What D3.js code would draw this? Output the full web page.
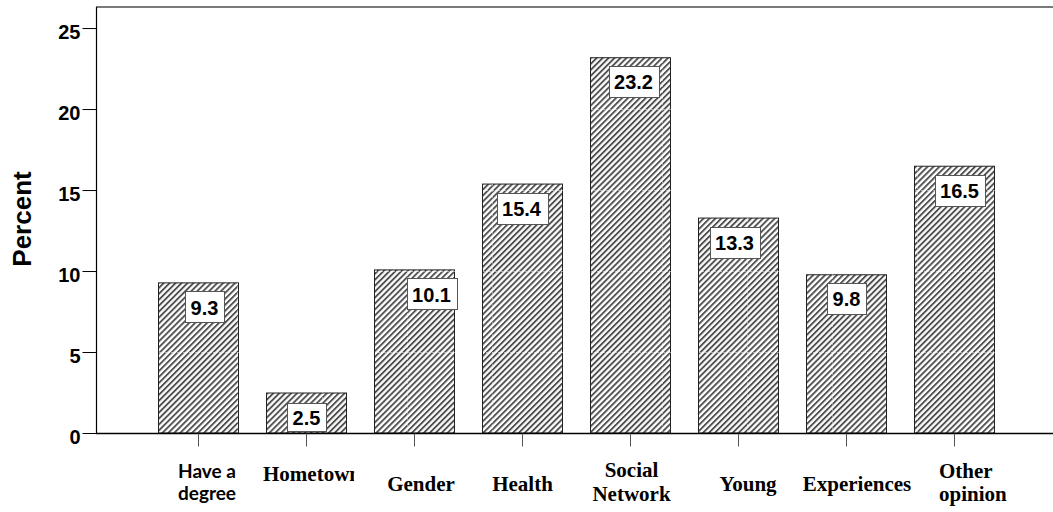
<!DOCTYPE html>
<html>
<head>
<meta charset="utf-8">
<script src="https://cdn.jsdelivr.net/npm/d3@7"></script>
<style>
  html, body { margin: 0; padding: 0; background: #fff; }
  svg { display: block; }
</style>
</head>
<body>
<svg id="chart" width="1053" height="512"></svg>
<script>
// Reasons given, share of respondents (%)
const categories = ["Have a\ndegree", "Hometown", "Gender", "Health", "Social\nNetwork", "Young", "Experiences", "Other\nopinion"];
const percents = [9.3, 2.5, 10.1, 15.4, 23.2, 13.3, 9.8, 16.5];
const yTicks = [0, 5, 10, 15, 20, 25];
const yTitle = "Percent";

// Layout of the category labels and value boxes (offsets from the band centre)
const labelLayout = [
  { font: "sans", anchor: "middle", dx: 8.5, y: [478, 500] },
  { font: "serif", anchor: "middle", dx: 5.5, y: [481], clipLast: true },
  { font: "serif", anchor: "middle", dx: 6.5, y: [491] },
  { font: "serif", anchor: "middle", dx: 0, y: [491] },
  { font: "serif", anchor: "middle", dx: 1, y: [477, 501] },
  { font: "serif", anchor: "middle", dx: 9.5, y: [491] },
  { font: "serif", anchor: "middle", dx: 10.5, y: [491] },
  { font: "serif", anchor: "start", dx: -15.5, y: [478, 501] }
];
const valueNudge = [6, 0, 17, -1, 3, -4, 0, 5];

const svg = d3.select("#chart");
const plotLeft = 96, plotRight = 1053, plotTop = 7, plotBottom = 433;

const x = d3.scaleBand()
  .domain(categories)
  .range([144.5, 1008.5])
  .paddingInner(0.25)
  .paddingOuter(0.125);

const y = d3.scaleLinear().domain([0, 26.3]).range([plotBottom, plotTop]);

// Diagonal hatch fill
const defs = svg.append("defs");
const pat = defs.append("pattern")
  .attr("id", "hatch")
  .attr("patternUnits", "userSpaceOnUse")
  .attr("width", 4.2).attr("height", 4.2)
  .attr("patternTransform", "rotate(45)");
pat.append("rect").attr("width", 4.2).attr("height", 4.2).attr("fill", "#fff");
pat.append("rect").attr("x", 0).attr("width", 1.9).attr("height", 4.2).attr("fill", "#505050");

const clip = defs.append("clipPath").attr("id", "barsClip");
clip.selectAll("rect")
  .data(percents)
  .join("rect")
  .attr("x", (d, i) => x(categories[i]))
  .attr("y", d => y(d))
  .attr("width", x.bandwidth())
  .attr("height", d => y(0) - y(d));

// Frame: top border
svg.append("line")
  .attr("x1", plotLeft).attr("x2", plotRight)
  .attr("y1", plotTop).attr("y2", plotTop)
  .attr("stroke", "#7a7a7a").attr("stroke-width", 2);

// Bars
svg.append("g").selectAll("rect")
  .data(percents)
  .join("rect")
  .attr("x", (d, i) => x(categories[i]) + 0.5)
  .attr("y", d => y(d) + 0.5)
  .attr("width", x.bandwidth() - 1)
  .attr("height", d => y(0) - y(d) - 0.5)
  .attr("fill", "url(#hatch)")
  .attr("stroke", "#222")
  .attr("stroke-width", 1);

// Faint grid showing through the hatching
const grid = svg.append("g").attr("clip-path", "url(#barsClip)");
grid.selectAll("line.h")
  .data(yTicks.slice(1))
  .join("line")
  .attr("class", "h")
  .attr("x1", plotLeft).attr("x2", plotRight)
  .attr("y1", d => Math.round(y(d)) + 0.5).attr("y2", d => Math.round(y(d)) + 0.5)
  .attr("stroke", "#fff").attr("stroke-opacity", 0.5)
  .attr("stroke-dasharray", "2,1");
const vGrid = d3.range(152, plotRight, 85);
grid.selectAll("line.v")
  .data(vGrid)
  .join("line")
  .attr("class", "v")
  .attr("x1", d => d + 0.5).attr("x2", d => d + 0.5)
  .attr("y1", plotTop).attr("y2", plotBottom)
  .attr("stroke", "#fff").attr("stroke-opacity", 0.4)
  .attr("stroke-dasharray", "2,1");

// Y axis
const yAxis = svg.append("g").attr("transform", `translate(${plotLeft + 0.5},0)`)
  .call(d3.axisLeft(y).tickValues(yTicks).tickSize(14).tickPadding(2).tickFormat(d3.format("d")));
yAxis.select(".domain").attr("d", `M0,${plotTop}V${plotBottom}`).attr("stroke", "#000").attr("stroke-width", 1.2);
yAxis.selectAll(".tick line").attr("stroke", "#000").attr("stroke-width", 1);
yAxis.selectAll(".tick text")
  .attr("fill", "#000")
  .attr("dy", "0.68em")
  .attr("y", -3)
  .style("font-family", "'Liberation Sans', Arial, sans-serif")
  .style("font-weight", "bold")
  .style("font-size", "20px");

// X axis
const xAxis = svg.append("g").attr("transform", `translate(0,${plotBottom + 0.5})`)
  .call(d3.axisBottom(x).tickSize(13).tickFormat(""));
xAxis.select(".domain").attr("d", `M${plotLeft},0H${plotRight}`).attr("stroke", "#000").attr("stroke-width", 1.4);
xAxis.selectAll(".tick line").attr("stroke", "#555").attr("stroke-width", 1);

// Category labels
const labels = svg.append("g");
categories.forEach((c, i) => {
  const lay = labelLayout[i];
  const cx = x(c) + x.bandwidth() / 2 + lay.dx;
  c.split("\n").forEach((line, j) => {
    const t = labels.append("text")
      .attr("x", cx)
      .attr("y", lay.y[j])
      .attr("text-anchor", lay.anchor)
      .attr("fill", "#000")
      .style("font-weight", "bold")
      .style("font-family", lay.font === "sans" ? "Lato, 'Open Sans', sans-serif" : "'Liberation Serif', 'Times New Roman', serif")
      .style("font-size", lay.font === "sans" ? "19px" : "21px")
      .text(line);
    if (lay.clipLast) {
      const n = line.length - 1;
      const ext = t.node().getExtentOfChar(n);
      const id = "lblClip" + i;
      defs.append("clipPath").attr("id", id)
        .append("rect")
        .attr("x", 0).attr("y", 0)
        .attr("width", ext.x + ext.width * 0.42).attr("height", 512);
      t.attr("clip-path", `url(#${id})`);
    }
  });
});

// Value boxes
const valG = svg.append("g");
percents.forEach((v, i) => {
  const cx = x(categories[i]) + x.bandwidth() / 2 + valueNudge[i];
  const cy = y(v) + 25;
  const g = valG.append("g");
  const t = g.append("text")
    .attr("x", cx)
    .attr("y", cy)
    .attr("dy", "0.36em")
    .attr("text-anchor", "middle")
    .attr("fill", "#000")
    .style("font-family", "'Liberation Sans', Arial, sans-serif")
    .style("font-weight", "bold")
    .style("font-size", "20px")
    .text(d3.format(".1f")(v));
  const bb = t.node().getBBox();
  const half = Math.min(16, plotBottom - 1 - cy);
  g.insert("rect", "text")
    .attr("x", Math.round(bb.x - 5.5) + 0.5)
    .attr("y", Math.round(cy - half) + 0.5)
    .attr("width", Math.round(bb.width + 11))
    .attr("height", Math.round(half * 2) - 1)
    .attr("fill", "#fff")
    .attr("stroke", "#555")
    .attr("stroke-width", 1);
});

// Y title
svg.append("text")
  .attr("transform", "translate(31,219) rotate(-90)")
  .attr("text-anchor", "middle")
  .attr("fill", "#000")
  .style("font-family", "'Liberation Sans', Arial, sans-serif")
  .style("font-weight", "bold")
  .style("font-size", "26px")
  .text(yTitle);
</script>
</body>
</html>
